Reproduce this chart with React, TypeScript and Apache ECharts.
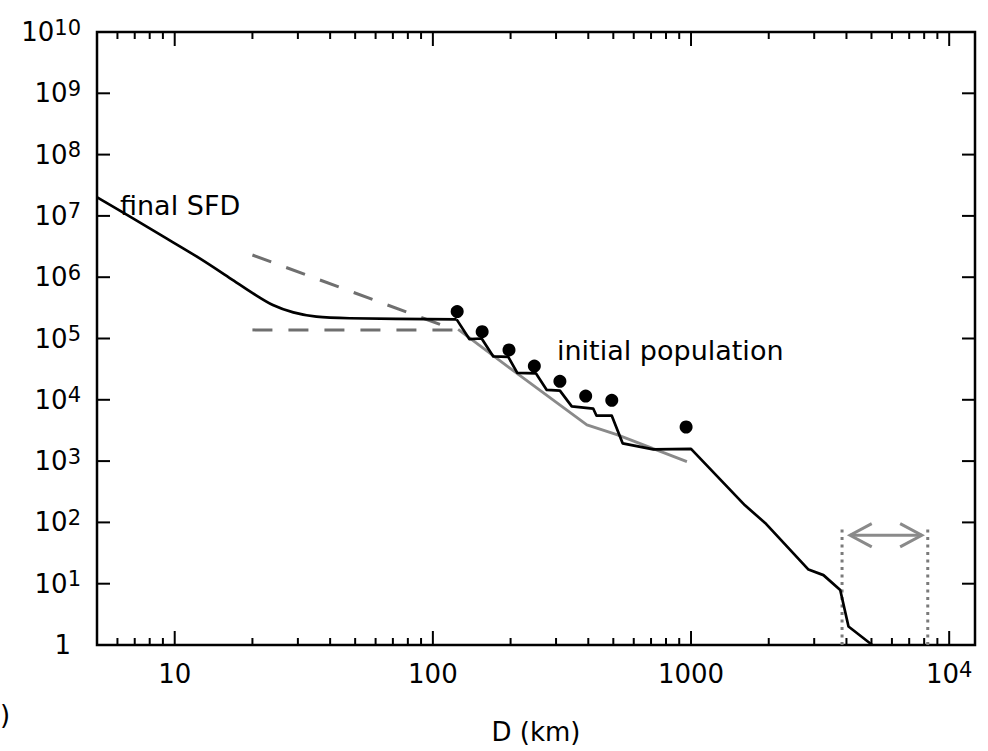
import React, { useEffect, useRef } from "react";
import * as echarts from "echarts";

const FONT = "'DejaVu Sans', sans-serif";

// final SFD (black curve): smooth small-size part, then the stepped part
const sfdSmoothD = [4.99, 6.89, 9.29, 12.5, 16.8, 20.1, 24.0, 28.8, 35.4, 47.6, 123.6];
const sfdSmoothN = [2.03e7, 9.1e6, 4.3e6, 2.03e6, 9.0e5, 5.46e5, 3.52e5, 2.67e5, 2.27e5, 2.14e5, 2.05e5];
const sfdStepD = [123.6, 138.4, 154.5, 171.4, 195.9, 212.3, 250.6, 276.1, 310.5, 345.1, 417.8, 430.5, 493.2, 543.3, 714.5, 1000, 1618, 1936, 2851, 3258, 3784, 4074, 5035];
const sfdStepN = [2.05e5, 9.8e4, 1.0e5, 5.1e4, 5.0e4, 2.75e4, 2.7e4, 1.45e4, 1.41e4, 7.8e3, 7.2e3, 5.5e3, 5.5e3, 1.95e3, 1.55e3, 1.58e3, 190, 98, 17, 13.8, 7.9, 2.0, 1.0];

// initial population (dots)
const initD = [124.2, 155.2, 197.2, 247.2, 310.5, 390.8, 493.2, 957];
const initN = [2.75e5, 1.29e5, 6.5e4, 3.55e4, 2.0e4, 1.15e4, 9.8e3, 3.6e3];

// gray solid fit
const fitD = [125.3, 217, 395, 516, 964];
const fitN = [1.41e5, 2.5e4, 3.9e3, 2.7e3, 980];

// gray dashed lines
const dashUpperD = [20, 121.6];
const dashUpperN = [2.3e6, 1.38e5];
const dashLowerD = [20, 121.6];
const dashLowerN = [1.38e5, 1.38e5];

// dotted guides and double arrow
const guideLeftD = [3846, 3846];
const guideRightD = [8260, 8260];
const guideN = [1, 81];
const arrowShaftD = [4130, 7834];
const arrowShaftN = [61.7, 61.7];
const arrowLeftD = [5012, 4130, 5012];
const arrowRightD = [6457, 7834, 6457];
const arrowHeadN = [95.5, 61.7, 39.8];

// tick marks and labels
const xMajorTicks = [10, 100, 1000, 10000];
const xMinorTicks = [6, 7, 8, 9, 20, 30, 40, 50, 60, 70, 80, 90, 200, 300, 400, 500, 600, 700, 800, 900, 2000, 3000, 4000, 5000, 6000, 7000, 8000, 9000];
const yMajorTicks = [10, 100, 1e3, 1e4, 1e5, 1e6, 1e7, 1e8, 1e9];
const yLabelValues = [1, 10, 100, 1e3, 1e4, 1e5, 1e6, 1e7, 1e8, 1e9, 1e10];
const xLabelValues = [10, 100, 1000, 10000];

const zip = (a: number[], b: number[]) => a.map((v, i) => [v, b[i]]);

const powerOf = (v: number) => {
  const l = Math.log10(v);
  const e = Math.round(l);
  return Math.abs(l - e) < 1e-6 ? e : null;
};

const rich = {
  b: { fontSize: 26, fontFamily: FONT, color: "#000", lineHeight: 30 },
  s: { fontSize: 21, fontFamily: FONT, color: "#000", verticalAlign: "top", lineHeight: 6 },
  one: { fontSize: 26, fontFamily: FONT, color: "#000", lineHeight: 30, padding: [0, 10, 0, 0] },
};

export default function App() {
  const ref = useRef<HTMLDivElement>(null);
  useEffect(() => {
    if (!ref.current) return;
    const chart = echarts.init(ref.current, undefined, { renderer: "svg" });
    const grayDash = "#6f6f6f";
    const option: any = {
      animation: false,
      backgroundColor: "#fff",
      grid: { left: 97, top: 32, right: 13, bottom: 106, show: true, borderColor: "#000", borderWidth: 2.5, containLabel: false },
      xAxis: {
        type: "log",
        logBase: 10,
        min: 5,
        max: 12589,
        axisLine: { show: false },
        axisTick: { show: false },
        splitLine: { show: false },
        axisLabel: {
          margin: 14,
          customValues: xLabelValues,
          formatter: (v: number) => {
            const e = powerOf(v);
            if (e === null) return "";
            if (e >= 4) return `{b|10}{s|${e}}`;
            return `{b|${Math.round(Math.pow(10, e))}}`;
          },
          rich,
        },
        name: "D (km)",
        nameLocation: "middle",
        nameGap: 74,
        nameTextStyle: { fontSize: 26, fontFamily: FONT, color: "#000" },
      },
      yAxis: {
        type: "log",
        logBase: 10,
        min: 1,
        max: 1e10,
        axisLine: { show: false },
        axisTick: { show: false },
        splitLine: { show: false },
        axisLabel: {
          margin: 16,
          customValues: yLabelValues,
          formatter: (v: number) => {
            const e = powerOf(v);
            if (e === null) return "";
            if (e === 0) return "{one|1}";
            return `{b|10}{s|${e}}`;
          },
          rich,
        },
      },
      series: [
        {
          type: "line", data: zip(dashUpperD, dashUpperN), symbol: "none", silent: true,
          lineStyle: { color: grayDash, width: 3, type: [20, 16] }, z: 2,
        },
        {
          type: "line", data: zip(dashLowerD, dashLowerN), symbol: "none", silent: true,
          lineStyle: { color: grayDash, width: 3, type: [20, 16] }, z: 2,
        },
        {
          type: "line", data: zip(fitD, fitN), symbol: "none", silent: true,
          lineStyle: { color: "#8a8a8a", width: 2.8 }, z: 2,
        },
        {
          type: "line", data: zip(sfdSmoothD, sfdSmoothN), symbol: "none", silent: true, smooth: 0.3,
          lineStyle: { color: "#000", width: 2.7, join: "round" }, z: 3,
        },
        {
          type: "line", data: zip(sfdStepD, sfdStepN), symbol: "none", silent: true,
          lineStyle: { color: "#000", width: 2.7, join: "round" }, z: 3,
        },
        {
          type: "scatter", data: zip(initD, initN), symbol: "circle", symbolSize: 13, silent: true,
          itemStyle: { color: "#000", opacity: 1 }, z: 4,
        },
        {
          type: "line", data: zip(guideLeftD, guideN), symbol: "none", silent: true,
          lineStyle: { color: "#7a7a7a", width: 3, type: [3, 4.5] }, z: 2,
        },
        {
          type: "line", data: zip(guideRightD, guideN), symbol: "none", silent: true,
          lineStyle: { color: "#7a7a7a", width: 3, type: [3, 4.5] }, z: 2,
        },
        {
          type: "line", data: zip(arrowShaftD, arrowShaftN), symbol: "none", silent: true,
          lineStyle: { color: "#8a8a8a", width: 3 }, z: 2,
        },
        {
          type: "line", data: zip(arrowLeftD, arrowHeadN), symbol: "none", silent: true,
          lineStyle: { color: "#8a8a8a", width: 3, join: "miter" }, z: 2,
        },
        {
          type: "line", data: zip(arrowRightD, arrowHeadN), symbol: "none", silent: true,
          lineStyle: { color: "#8a8a8a", width: 3, join: "miter" }, z: 2,
        },
        {
          type: "custom", silent: true, clip: false, z: 10,
          data: xMajorTicks.map((v) => [v, 1, 14]).concat(xMinorTicks.map((v) => [v, 1, 7])),
          encode: { x: 0, y: 1 },
          renderItem: (params: any, api: any) => {
            const cs = params.coordSys;
            const px = api.coord([api.value(0), 1])[0];
            const len = api.value(2);
            const bottom = cs.y + cs.height;
            return {
              type: "group",
              children: [
                { type: "line", shape: { x1: px, y1: bottom, x2: px, y2: bottom - len }, style: { stroke: "#000", lineWidth: 2 } },
                { type: "line", shape: { x1: px, y1: cs.y, x2: px, y2: cs.y + len }, style: { stroke: "#000", lineWidth: 2 } },
              ],
            };
          },
        },
        {
          type: "custom", silent: true, clip: false, z: 10,
          data: yMajorTicks.map((v) => [10, v, 13]),
          encode: { x: 0, y: 1 },
          renderItem: (params: any, api: any) => {
            const cs = params.coordSys;
            const py = api.coord([10, api.value(1)])[1];
            const len = api.value(2);
            const right = cs.x + cs.width;
            return {
              type: "group",
              children: [
                { type: "line", shape: { x1: cs.x, y1: py, x2: cs.x + len, y2: py }, style: { stroke: "#000", lineWidth: 2 } },
                { type: "line", shape: { x1: right, y1: py, x2: right - len, y2: py }, style: { stroke: "#000", lineWidth: 2 } },
              ],
            };
          },
        },
      ],
      graphic: [
        { type: "text", left: 120, top: 192, silent: true, style: { text: "final SFD", fontSize: 27, fontFamily: FONT, fill: "#000" } },
        { type: "text", left: 557, top: 337, silent: true, style: { text: "initial population", fontSize: 27, fontFamily: FONT, fill: "#000" } },
        { type: "text", left: 0, top: 702, silent: true, style: { text: ")", fontSize: 26, fontFamily: FONT, fill: "#000" } },
      ],
    };
    chart.setOption(option);
    return () => chart.dispose();
  }, []);
  return <div ref={ref} style={{ position: "absolute", left: 0, top: 0, width: 988, height: 751 }} />;
}
